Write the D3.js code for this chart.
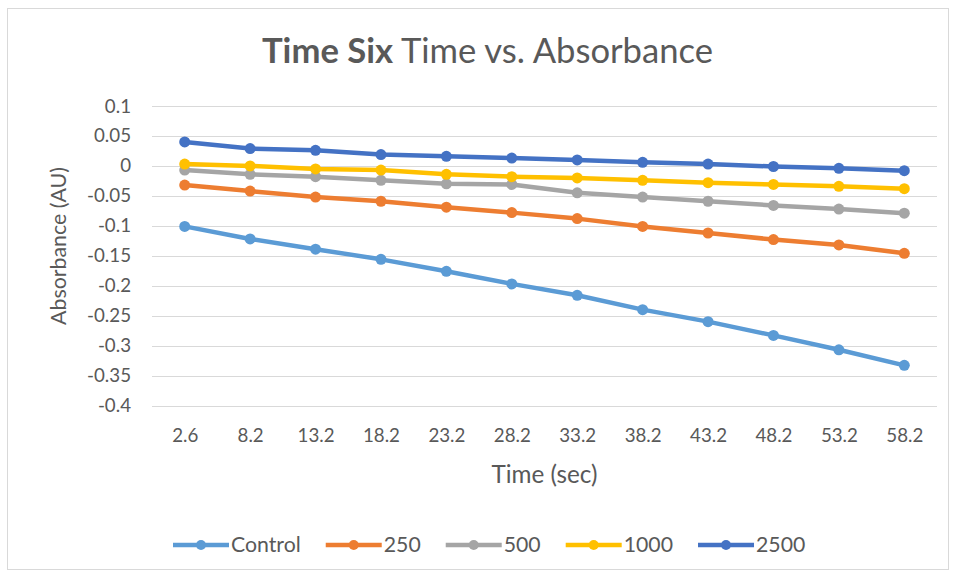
<!DOCTYPE html>
<html>
<head>
<meta charset="utf-8">
<script src="https://cdn.jsdelivr.net/npm/d3@7/dist/d3.min.js"></script>
<style>
  html, body { margin: 0; padding: 0; background: #fff; }
  svg { display: block; font-family: Lato, "Open Sans", sans-serif; }
</style>
</head>
<body>
<svg id="chart" width="954" height="576"></svg>
<script>
// ---- data ----
const categories = ["2.6","8.2","13.2","18.2","23.2","28.2","33.2","38.2","43.2","48.2","53.2","58.2"];
const seriesNames = ["Control","250","500","1000","2500"];
const controlValues = [-0.101,-0.122,-0.139,-0.156,-0.176,-0.197,-0.216,-0.240,-0.260,-0.283,-0.307,-0.333];
const v250Values    = [-0.032,-0.042,-0.052,-0.059,-0.069,-0.078,-0.088,-0.101,-0.112,-0.123,-0.132,-0.146];
const v500Values    = [-0.007,-0.014,-0.018,-0.024,-0.030,-0.031,-0.045,-0.052,-0.059,-0.066,-0.072,-0.079];
const v1000Values   = [0.003,0.000,-0.005,-0.007,-0.014,-0.018,-0.020,-0.024,-0.028,-0.031,-0.034,-0.038];
const v2500Values   = [0.040,0.029,0.026,0.019,0.016,0.013,0.010,0.006,0.003,-0.001,-0.004,-0.008];
const yTickValues = [0.1,0.05,0,-0.05,-0.1,-0.15,-0.2,-0.25,-0.3,-0.35,-0.4];
const yTickLabels = ["0.1","0.05","0","-0.05","-0.1","-0.15","-0.2","-0.25","-0.3","-0.35","-0.4"];
const titleBold = "Time Six";
const titleRest = " Time vs. Absorbance";
const xAxisTitle = "Time (sec)";
const yAxisTitle = "Absorbance (AU)";
const colors = ["#5B9BD5","#ED7D31","#A5A5A5","#FFC000","#4472C4"];

const allSeries = [controlValues, v250Values, v500Values, v1000Values, v2500Values];

// ---- layout ----
const svg = d3.select("#chart");
const plot = { left: 152, right: 937, top: 106, bottom: 405.5 };
const textColor = "#595959";

// font fitting helper: returns font-size so text of given weight has target width
function fitSize(str, target, weight) {
  const t = svg.append("text").attr("font-size", 100).attr("font-weight", weight || "normal").text(str);
  const w = t.node().getComputedTextLength();
  t.remove();
  return 100 * target / w;
}

// chart border
svg.append("rect")
  .attr("x", 7.5).attr("y", 8.5).attr("width", 941).attr("height", 561)
  .attr("fill", "#fff").attr("stroke", "#D9D9D9").attr("stroke-width", 1);

const x = d3.scalePoint().domain(categories).range([plot.left, plot.right]).padding(0.5);
const y = d3.scaleLinear().domain([-0.4, 0.1]).range([plot.bottom, plot.top]);

// gridlines
svg.append("g").selectAll("line").data(yTickValues).join("line")
  .attr("x1", plot.left).attr("x2", plot.right)
  .attr("y1", d => Math.round(y(d)) + 0.5).attr("y2", d => Math.round(y(d)) + 0.5)
  .attr("stroke", "#D9D9D9").attr("stroke-width", 1);

// y axis labels
const tickSize = fitSize("0.05", 37);
const yAxis = d3.axisLeft(y).tickValues(yTickValues)
  .tickFormat((d, i) => yTickLabels[i]).tickSize(0).tickPadding(0);
const gy = svg.append("g").attr("transform", `translate(${plot.left - 21},0)`).call(yAxis);
gy.select(".domain").remove();
gy.selectAll("text").attr("fill", textColor).attr("font-size", tickSize)
  .attr("font-family", "Lato, 'Open Sans', sans-serif");

// x axis labels
const xAxis = d3.axisBottom(x).tickSize(0).tickPadding(0);
const gx = svg.append("g").attr("transform", `translate(0,${plot.bottom + 23})`).call(xAxis);
gx.select(".domain").remove();
gx.selectAll("text").attr("fill", textColor).attr("font-size", tickSize)
  .attr("font-family", "Lato, 'Open Sans', sans-serif");

// lines and markers
const line = d3.line().x((d, i) => x(categories[i])).y(d => y(d));
allSeries.forEach((vals, s) => {
  const g = svg.append("g");
  g.append("path").datum(vals).attr("d", line)
    .attr("fill", "none").attr("stroke", colors[s]).attr("stroke-width", 4.5)
    .attr("stroke-linejoin", "round").attr("stroke-linecap", "round");
  g.selectAll("circle").data(vals).join("circle")
    .attr("cx", (d, i) => x(categories[i])).attr("cy", d => y(d))
    .attr("r", 5.5).attr("fill", colors[s]);
});

// title
(function () {
  const t = svg.append("text").attr("font-size", 100);
  t.append("tspan").attr("font-weight", "bold").text(titleBold);
  t.append("tspan").attr("font-weight", "normal").text(titleRest);
  const w = t.node().getComputedTextLength();
  t.remove();
  const fs = 100 * 451 / w;
  const tt = svg.append("text").attr("x", 487.5).attr("y", 63)
    .attr("text-anchor", "middle").attr("font-size", fs).attr("fill", textColor);
  tt.append("tspan").attr("font-weight", "bold").text(titleBold);
  tt.append("tspan").attr("font-weight", "normal").text(titleRest);
})();

// axis titles
svg.append("text").attr("x", (plot.left + plot.right) / 2).attr("y", 483)
  .attr("text-anchor", "middle").attr("fill", textColor)
  .attr("font-size", fitSize(xAxisTitle, 106)).text(xAxisTitle);
svg.append("text").attr("transform", `translate(66,246) rotate(-90)`)
  .attr("text-anchor", "middle").attr("fill", textColor)
  .attr("font-size", fitSize(yAxisTitle, 158)).text(yAxisTitle);

// legend
const legendSize = fitSize("250", 37);
const legendY = 545;
const lineLen = 56, gapText = 2, gapEntry = 25;
let lx = 173;
seriesNames.forEach((name, s) => {
  const g = svg.append("g");
  g.append("line").attr("x1", lx).attr("x2", lx + lineLen)
    .attr("y1", legendY).attr("y2", legendY)
    .attr("stroke", colors[s]).attr("stroke-width", 4.5);
  g.append("circle").attr("cx", lx + lineLen / 2).attr("cy", legendY).attr("r", 5).attr("fill", colors[s]);
  const t = g.append("text").attr("x", lx + lineLen + gapText).attr("y", legendY)
    .attr("dy", "0.35em").attr("fill", textColor).attr("font-size", legendSize).text(name);
  lx += lineLen + gapText + t.node().getComputedTextLength() + gapEntry;
});
</script>
</body>
</html>
